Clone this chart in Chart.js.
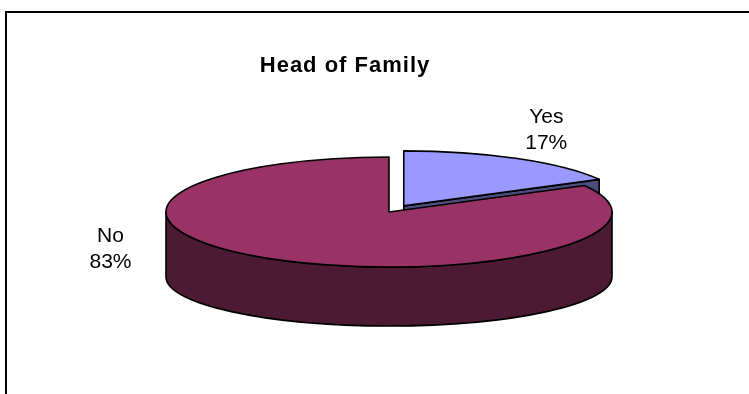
<!DOCTYPE html>
<html>
<head>
<meta charset="utf-8">
<title>Head of Family</title>
<script src="https://cdn.jsdelivr.net/npm/chart.js@4.4.1/dist/chart.umd.min.js"></script>
<style>
  html, body { margin: 0; padding: 0; background: #fff; }
  #wrap { width: 749px; height: 394px; }
</style>
</head>
<body>
<div id="wrap"><canvas id="headChart" width="749" height="394"></canvas></div>
<script>
const categories = ["Yes", "No"];
const shares = [17, 83];
const sliceColors = ["#9999FF", "#993366"];
const explode = [29, 0];

const chartTitle = "Head of Family";

// 3d look: squash of the top face, flatter base, drop of the base
const TILT = 55 / 223;
const BASE_TILT = 49 / 223;
const DEPTH = 65;

// label placement, measured from the rim point at each slice's mid angle
const labelNudge = [[29, -36], [-165, -17]];
const LINE_GAP = 26;

const shade = (hex, f) => {
  const n = parseInt(hex.slice(1), 16);
  const r = Math.round(((n >> 16) & 255) * f);
  const g = Math.round(((n >> 8) & 255) * f);
  const b = Math.round((n & 255) * f);
  return `rgb(${r},${g},${b})`;
};

const slicesOf = (chart) =>
  chart.getDatasetMeta(0).data.map((arc) => {
    const p = arc.getProps(["x", "y", "startAngle", "endAngle", "outerRadius"], true);
    const mid = (p.startAngle + p.endAngle) / 2;
    const e = arc.options.offset || 0;
    return {
      start: p.startAngle,
      end: p.endAngle,
      mid,
      ox: p.x + Math.cos(mid) * e,
      oy: p.y + Math.sin(mid) * e * TILT,
      rx: p.outerRadius,
      ry: p.outerRadius * TILT,
      ryB: p.outerRadius * BASE_TILT,
      fill: arc.options.backgroundColor,
      side: shade(arc.options.backgroundColor, 0.5)
    };
  });

const pie3d = {
  id: "pie3d",
  beforeDraw(chart) {
    const { ctx } = chart;
    ctx.save();
    ctx.fillStyle = "#000";
    ctx.fillRect(5, 11, chart.width, 2);
    ctx.fillRect(5, 11, 2, chart.height);
    ctx.restore();
  },
  beforeDatasetsDraw(chart) {
    const { ctx } = chart;
    const slices = slicesOf(chart);
    ctx.save();
    ctx.lineWidth = 1.6;
    ctx.strokeStyle = "#000";
    ctx.lineJoin = "round";

    // cut faces of pulled-out slices that turn towards the viewer
    slices.forEach((s) => {
      const edges = [];
      if (Math.cos(s.end) > 0.01) edges.push(s.end);
      if (-Math.cos(s.start) > 0.01) edges.push(s.start);
      edges.forEach((a) => {
        ctx.beginPath();
        ctx.moveTo(s.ox, s.oy);
        ctx.lineTo(s.ox + s.rx * Math.cos(a), s.oy + s.ry * Math.sin(a));
        ctx.lineTo(s.ox + s.rx * Math.cos(a), s.oy + DEPTH + s.ryB * Math.sin(a));
        ctx.lineTo(s.ox, s.oy + DEPTH);
        ctx.closePath();
        ctx.fillStyle = s.side;
        ctx.fill();
        ctx.stroke();
      });
    });

    // outer wall, front half only
    slices.forEach((s) => {
      for (let k = -1; k <= 1; k++) {
        const lo = Math.max(s.start, k * 2 * Math.PI);
        const hi = Math.min(s.end, k * 2 * Math.PI + Math.PI);
        if (hi <= lo) continue;
        ctx.beginPath();
        ctx.ellipse(s.ox, s.oy, s.rx, s.ry, 0, lo, hi);
        ctx.ellipse(s.ox, s.oy + DEPTH, s.rx, s.ryB, 0, hi, lo, true);
        ctx.closePath();
        ctx.fillStyle = s.side;
        ctx.fill();
        ctx.stroke();
      }
    });

    // top faces
    slices.forEach((s) => {
      ctx.beginPath();
      ctx.moveTo(s.ox, s.oy);
      ctx.ellipse(s.ox, s.oy, s.rx, s.ry, 0, s.start, s.end);
      ctx.closePath();
      ctx.fillStyle = s.fill;
      ctx.fill();
      ctx.stroke();
    });

    ctx.restore();
    return false;
  },
  afterDraw(chart) {
    const { ctx } = chart;
    const slices = slicesOf(chart);
    const total = shares.reduce((a, b) => a + b, 0);
    ctx.save();
    ctx.fillStyle = "#000";
    ctx.textAlign = "center";
    ctx.textBaseline = "alphabetic";

    ctx.font = "21px 'Liberation Sans', Arial, sans-serif";
    slices.forEach((s, i) => {
      const x = s.ox + s.rx * Math.cos(s.mid) + labelNudge[i][0];
      const y = s.oy + s.ry * Math.sin(s.mid) + labelNudge[i][1];
      ctx.fillText(categories[i], x, y);
      ctx.fillText(Math.round((shares[i] / total) * 100) + "%", x, y + LINE_GAP);
    });

    ctx.font = "bold 22px 'Liberation Sans', Arial, sans-serif";
    ctx.letterSpacing = "1px";
    ctx.fillText(chartTitle, 345, 72);
    ctx.restore();
  }
};

new Chart(document.getElementById("headChart"), {
  type: "pie",
  data: {
    labels: categories,
    datasets: [
      {
        data: shares,
        backgroundColor: sliceColors,
        borderColor: "#000",
        borderWidth: 1,
        offset: explode
      }
    ]
  },
  options: {
    responsive: false,
    animation: false,
    radius: 223,
    layout: { padding: { left: 29, right: 0, top: 30, bottom: 0 } },
    plugins: {
      legend: { display: false },
      title: { display: false },
      tooltip: { enabled: false }
    }
  },
  plugins: [pie3d]
});
</script>
</body>
</html>
